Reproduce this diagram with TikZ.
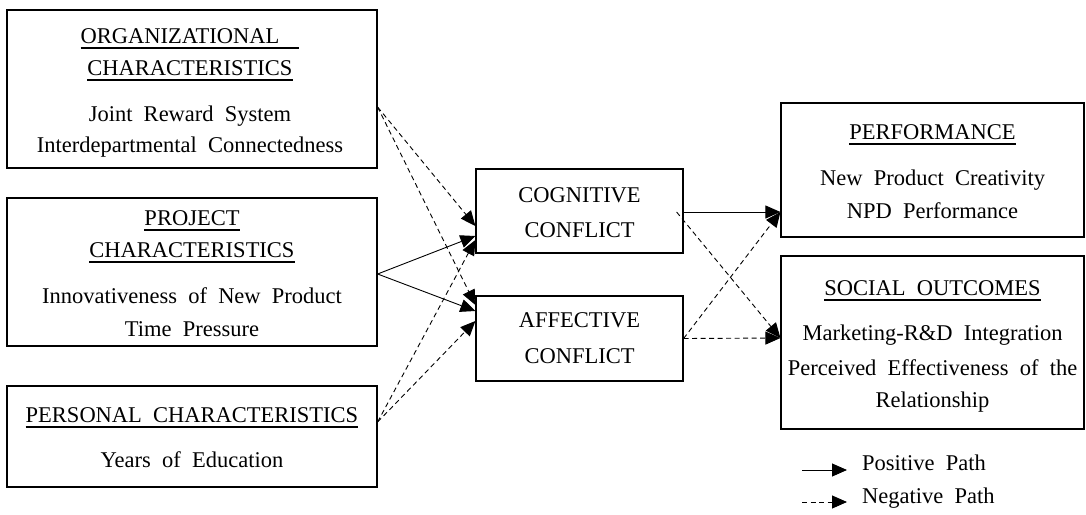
\documentclass[tikz,border=0pt]{standalone}
\usepackage{fontspec}
\setmainfont{Liberation Serif}
\usetikzlibrary{arrows.meta}
\newcommand\mkul[1]{\setbox0=\hbox{#1}\rlap{\rule[-5.6pt]{\wd0}{1.2pt}}\box0}
\newcommand\diagfont{\fontsize{22.5}{30}\selectfont\spaceskip=0.5em\relax}
\begin{document}
\begin{tikzpicture}[x=1pt,y=-1pt,
  box/.style={draw, line width=1.2pt, rectangle, inner sep=0pt},
  txt/.style={font=\diagfont, align=center, inner sep=0pt, anchor=base},
  posarrow/.style={line width=0.9pt, -{Triangle[length=15pt,width=13pt]}},
  negarrow/.style={posarrow, dash pattern=on 5pt off 3.5pt}]
\useasboundingbox (0,0) rectangle (1086,514);

% boxes
\node[box, minimum width=370pt, minimum height=158pt] (org) at (192,89) {};
\node[box, minimum width=370pt, minimum height=148pt] (proj) at (192,272) {};
\node[box, minimum width=370pt, minimum height=101pt] (pers) at (192,436.5) {};
\node[box, minimum width=207pt, minimum height=84pt] (cog) at (579.5,211) {};
\node[box, minimum width=207pt, minimum height=85pt] (aff) at (579.5,338.5) {};
\node[box, minimum width=303pt, minimum height=134pt] (perf) at (932.5,170) {};
\node[box, minimum width=303pt, minimum height=173pt] (soc) at (932.5,342.5) {};

% texts (anchored at the baseline of the last line)
\node[txt] (orgt) at (190,152) {\mkul{ORGANIZATIONAL\hspace{20pt}}\\[2pt]\mkul{CHARACTERISTICS}\\[16pt]Joint Reward System\\[1pt]Interdepartmental Connectedness};
\node[txt] (projt) at (192,336) {\mkul{PROJECT}\\[2pt]\mkul{CHARACTERISTICS}\\[16pt]Innovativeness of New Product\\[3pt]Time Pressure};
\node[txt] (perst) at (192,467) {\mkul{PERSONAL CHARACTERISTICS}\\[15pt]Years of Education};
\node[txt] (cogt) at (579.5,237) {COGNITIVE\\[5pt]CONFLICT};
\node[txt] (afft) at (579.5,363) {AFFECTIVE\\[6pt]CONFLICT};
\node[txt] (perft) at (932.5,218) {\mkul{PERFORMANCE}\\[16pt]New Product Creativity\\[3pt]NPD Performance};
\node[txt] (soct) at (932.5,407) {\mkul{SOCIAL OUTCOMES}\\[15pt]Marketing-R\&D Integration\\[5pt]Perceived Effectiveness of the\\[2pt]Relationship};

% left connectors
\draw[negarrow] ([yshift=-18pt]org.east) -- ([yshift=-15pt]cog.west);
\draw[negarrow] ([yshift=-18pt]org.east) -- ([yshift=33.5pt]aff.west);
\draw[posarrow] ([yshift=-2pt]proj.east) -- ([yshift=-25pt]cog.west);
\draw[posarrow] ([yshift=-2pt]proj.east) -- ([yshift=27.5pt]aff.west);
\draw[negarrow] ([yshift=14.5pt]pers.east) -- ([yshift=-29pt]cog.west);
\draw[negarrow] ([yshift=14.5pt]pers.east) -- ([yshift=17.5pt]aff.west);

% right connectors
\draw[posarrow] ([yshift=-1pt]cog.east) -- ([yshift=-42pt]perf.west);
\draw[negarrow] ([xshift=-7pt,yshift=-1pt]cog.east) -- ([yshift=4.5pt]soc.west);
\draw[negarrow] (aff.east) -- ([yshift=-42pt]perf.west);
\draw[negarrow] (aff.east) -- ([yshift=4.5pt]soc.west);

% legend
\coordinate (lpa) at (802,470);
\coordinate (lpb) at (847,470);
\coordinate (lna) at (802,502);
\coordinate (lnb) at (847,502);
\draw[posarrow] (lpa) -- (lpb);
\draw[negarrow] (lna) -- (lnb);
\node[txt, anchor=base west] (lpt) at (862,470) {Positive Path};
\node[txt, anchor=base west] (lnt) at (862,503) {Negative Path};
\end{tikzpicture}
\end{document}
